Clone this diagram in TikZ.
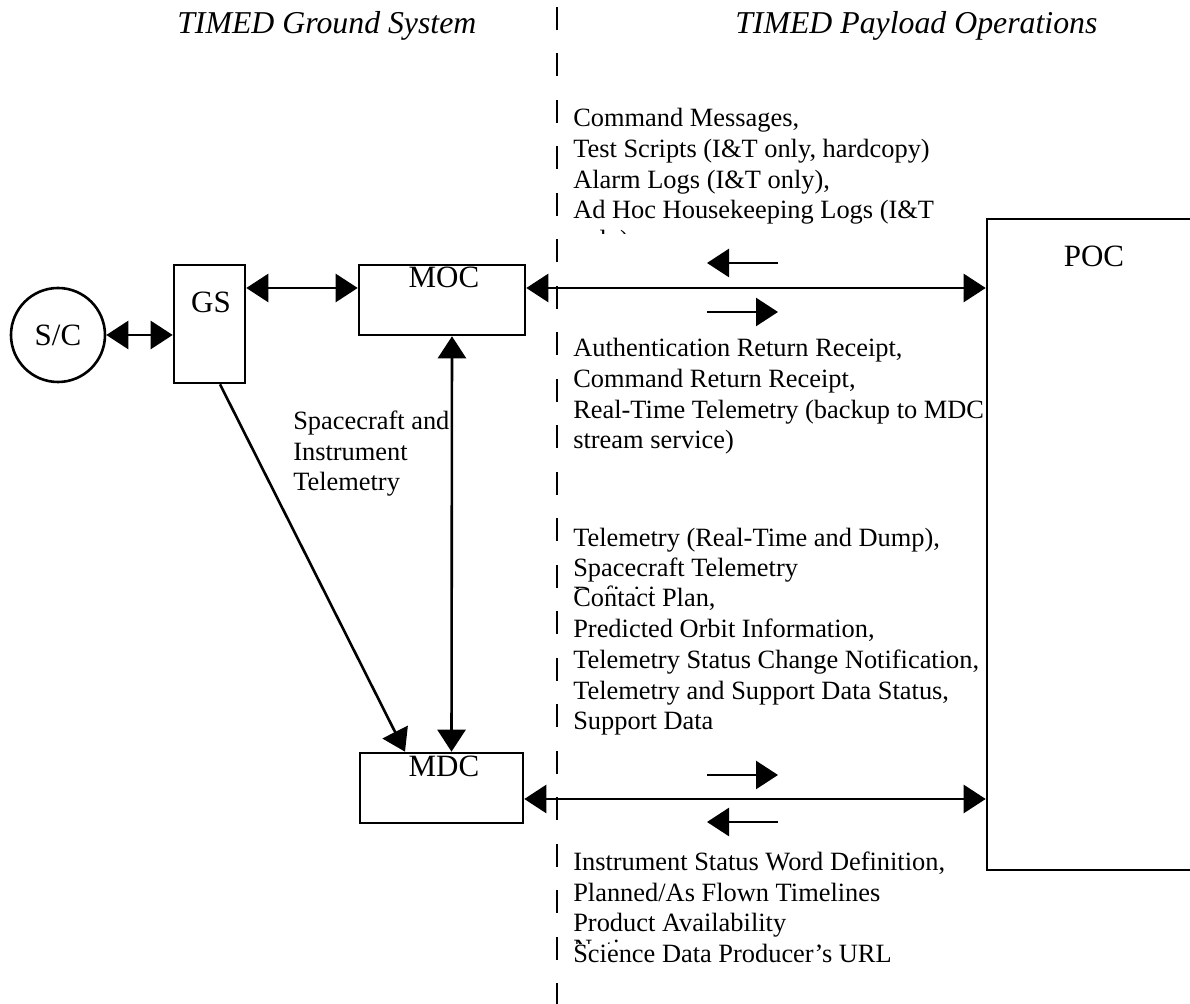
\documentclass[tikz,border=0pt]{standalone}
\usepackage{fontspec}
\setmainfont{Liberation Serif}
\usetikzlibrary{arrows.meta}

\begin{document}
\begin{tikzpicture}[x=0.5pt,y=-0.5pt,line width=1.3pt,
  >={Triangle[length=11pt,width=14pt]},
  box/.style={draw,rectangle,inner sep=0pt},
  lbl/.style={anchor=base,inner sep=0pt,font=\fontsize{15.5}{18}\selectfont},
  msg/.style={anchor=base west,inner sep=0pt,align=left,font=\fontsize{13.2}{15.4}\selectfont},
  heading/.style={anchor=base west,inner sep=0pt,font=\fontsize{15.9}{18}\selectfont\itshape}]

\useasboundingbox (0,0) rectangle (1190,1004);

% headings
\node[heading] (gshead) at (176,34) {TIMED Ground System};
\node[heading] (pohead) at (734,34) {TIMED Payload Operations};

% divider
\coordinate (divtop) at (557,7);
\coordinate (divbot) at (557,1004);
\draw[line width=1pt,dash pattern=on 11.5pt off 11.75pt] (divtop) -- (divbot);

% ground side boxes
\node[draw,circle,minimum size=47pt,inner sep=0pt,font=\fontsize{15.5}{18}\selectfont] (sc) at (58,335) {S/C};
\node[box,minimum width=35.5pt,minimum height=59pt] (gs) at (209.5,324) {};
\node[lbl] (gslbl) at (211,313) {GS};
\node[box,minimum width=83pt,minimum height=35pt] (moc) at (442,300) {};
\node[lbl] (moclbl) at (444,288) {MOC};
\node[box,minimum width=81.5pt,minimum height=35pt] (mdc) at (441.5,788) {};
\node[lbl] (mdclbl) at (444,777) {MDC};

% (anchor base = last line)
\node[msg] (tlmlbl) at (292,491) {Spacecraft and\\Instrument\\Telemetry};

% MOC <-> POC traffic
\node[msg] (cmdmsg) at (572,219) {Command Messages,\\Test Scripts (I\&T only, hardcopy)\\Alarm Logs (I\&T only),\\Ad Hoc Housekeeping Logs (I\&T};
\begin{scope}
\clip (560,200) rectangle (985,234);
\node[msg] (cmdcut) at (572,249) {only)};
\end{scope}
\node[msg] (rcptmsg) at (572,449) {Authentication Return Receipt,\\Command Return Receipt,\\Real-Time Telemetry (backup to MDC\\stream service)};

% MDC <-> POC traffic
\node[msg] (tlmmsg) at (572,577) {Telemetry (Real-Time and Dump),\\Spacecraft Telemetry};
\begin{scope}
\clip (560,560) rectangle (985,589);
\node[msg] (tlmcut) at (572,605) {Definition};
\end{scope}
\node[msg] (planmsg) at (572,730) {Contact Plan,\\Predicted Orbit Information,\\Telemetry Status Change Notification,\\Telemetry and Support Data Status,\\Support Data};
\node[msg] (instmsg) at (572,932) {Instrument Status Word Definition,\\Planned/As Flown Timelines\\Product Availability};
\begin{scope}
\clip (560,920) rectangle (985,944);
\node[msg] (instcut) at (572,958) {Notice};
\end{scope}
\node[msg] (urlmsg) at (572,963) {Science Data Producer's URL};

% POC box
\node[box,fill=white,minimum width=107pt,minimum height=325.5pt] (poc) at (1094,544.5) {};
\node[lbl] (poclbl) at (1094,267) {POC};

% links
\draw[<->] (sc.east) -- (sc.east -| gs.west);
\coordinate (gsmoc) at ([yshift=6pt]moc.west);
\draw[<->] (gsmoc -| gs.east) -- (gsmoc);
\coordinate (mocpoc) at ([yshift=6pt]moc.east);
\draw[<->] (mocpoc) -- (mocpoc -| poc.west);
\draw[<->] ([xshift=5pt]moc.south) -- ([xshift=5pt]mdc.north);
\draw[->] ([xshift=5.25pt]gs.south) -- ([xshift=-18.25pt]mdc.north);
\coordinate (mdcpoc) at ([yshift=-5.5pt]mdc.east);
\draw[<->] (mdcpoc) -- (mdcpoc -| poc.west);

% direction marks
\coordinate (topL) at (707,263);
\coordinate (topR) at (778,263);
\draw[->] (topR) -- (topL);
\coordinate (midL) at (707,312);
\coordinate (midR) at (778,312);
\draw[->] (midL) -- (midR);
\coordinate (lowL) at (707,775);
\coordinate (lowR) at (778,775);
\draw[->] (lowL) -- (lowR);
\coordinate (botL) at (707,822);
\coordinate (botR) at (778,822);
\draw[->] (botR) -- (botL);

\end{tikzpicture}
\end{document}
